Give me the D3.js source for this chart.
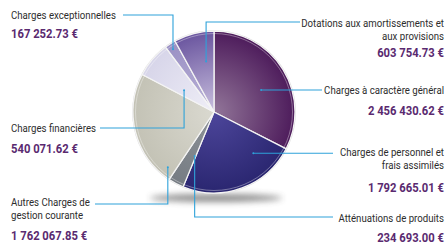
<!DOCTYPE html>
<html><head><meta charset="utf-8">
<script src="https://cdn.jsdelivr.net/npm/d3@7"></script>
<style>
html,body{margin:0;padding:0;background:#fff;}
svg{display:block;}
text{font-family:Roboto,"Liberation Sans",sans-serif;}
</style></head><body>
<svg id="chart" width="448" height="244"></svg>
<script>
// ---- data ----
const categories = [
  "Charges à caractère général",
  "Charges de personnel et frais assimilés",
  "Atténuations de produits",
  "Autres Charges de gestion courante",
  "Charges financières",
  "Charges exceptionnelles",
  "Dotations aux amortissements et aux provisions"
];
const values = [2456430.62, 1792665.01, 234693.00, 1762067.85, 540071.62, 167252.73, 603754.73];
const labelLines = [
  ["Charges à caractère général"],
  ["Charges de personnel et", "frais assimilés"],
  ["Atténuations de produits"],
  ["Autres Charges de", "gestion courante"],
  ["Charges financières"],
  ["Charges exceptionnelles"],
  ["Dotations aux amortissements et", "aux provisions"]
];
const innerColors = ["#927699", "#4d469b", "#8d9298", "#dad9d0", "#efeef7", "#bab2d7", "#c9c0de"];
const outerColors = ["#4d1b5b", "#2a2670", "#767c83", "#c3c2b5", "#d7d5e9", "#9a90c4", "#6a559f"];

// ---- layout ----
const W = 448, H = 244, cx = 214, cy = 112, R = 81;
const layout = [
  {f:0.555, r:52, elbowY:null, endX:322, lx:444, ta:"end",   ly:94,  vy:115},
  {f:0.227, r:57, elbowY:null, endX:333, lx:444, ta:"end",   ly:156, vy:192},
  {f:0.12,  r:48, elbowY:217,  endX:333, lx:444, ta:"end",   ly:222, vy:242},
  {f:0.075, r:72, elbowY:204,  endX:95,  lx:11,  ta:"start", ly:206, vy:240},
  {f:0.33,  r:37, elbowY:128,  endX:100, lx:11,  ta:"start", ly:132, vy:153},
  {f:0.45,  r:75, elbowY:15,   endX:123, lx:11,  ta:"start", ly:19,  vy:38},
  {f:0.69,  r:51, elbowY:22,   endX:300, lx:444, ta:"end",   ly:27,  vy:57}
];
const lineH = 12.5;
const labelScale = 0.84, valueScale = 0.9;

const fmt = v => d3.format(",.2f")(v).replace(/,/g, " ") + " €";

const svg = d3.select("#chart");
const defs = svg.append("defs");
const blur = defs.append("filter").attr("id","blur").attr("x","-50%").attr("y","-200%").attr("width","200%").attr("height","500%");
blur.append("feGaussianBlur").attr("stdDeviation", 3);

categories.forEach((c,i) => {
  const g = defs.append("radialGradient").attr("id","g"+i)
    .attr("gradientUnits","userSpaceOnUse").attr("cx",0).attr("cy",0).attr("r",R);
  g.append("stop").attr("offset","0").attr("stop-color", innerColors[i]);
  g.append("stop").attr("offset","1").attr("stop-color", outerColors[i]);
});

// shadow
svg.append("ellipse").attr("cx", cx + 2).attr("cy", cy + R + 5).attr("rx", 66).attr("ry", 4)
  .attr("fill", "#444").attr("opacity", 0.6).attr("filter", "url(#blur)");

const pie = d3.pie().sort(null).value(d => d)(values);
const arc = d3.arc().innerRadius(0).outerRadius(R);
const g = svg.append("g").attr("transform", `translate(${cx},${cy})`);

g.append("circle").attr("r", R + 0.8).attr("fill", "#d6d6d6");
g.selectAll("path.slice").data(pie).join("path").attr("class","slice")
  .attr("d", arc).attr("fill", (d,i) => `url(#g${i})`)
  .attr("stroke", "#f4f4f4").attr("stroke-width", 1.3).attr("stroke-linejoin","round");
g.append("circle").attr("r", R - 2.5).attr("fill", "none")
  .attr("stroke", "#fff").attr("stroke-opacity", 0.45).attr("stroke-width", 0.8);

const lineColor = "#2ea2da";
function addText(x, y, anchor, sx, size, weight, fill, t) {
  svg.append("g").attr("transform", `translate(${x},${y}) scale(${sx},1)`)
    .append("text").attr("text-anchor", anchor).attr("font-size", size)
    .attr("font-weight", weight).attr("fill", fill).text(t);
}
pie.forEach((d,i) => {
  const L = layout[i];
  const a = d.startAngle + L.f * (d.endAngle - d.startAngle);
  const p = d3.pointRadial(a, L.r);
  const ax = cx + p[0], ay = cy + p[1];
  const pts = L.elbowY === null ? [[ax, ay], [L.endX, ay]] : [[ax, ay], [ax, L.elbowY], [L.endX, L.elbowY]];
  svg.append("path").attr("d", d3.line()(pts)).attr("fill","none")
    .attr("stroke", lineColor).attr("stroke-width", 1.1);
  svg.append("circle").attr("cx", ax).attr("cy", ay).attr("r", 1).attr("fill", lineColor);

  labelLines[i].forEach((t,k) => addText(L.lx, L.ly + k*lineH, L.ta, labelScale, 11.5, "normal", "#2d2d2d", t));
  addText(L.lx, L.vy, L.ta, valueScale, 12.5, "bold", "#5a2a70", fmt(values[i]));
});
</script>
</body></html>
